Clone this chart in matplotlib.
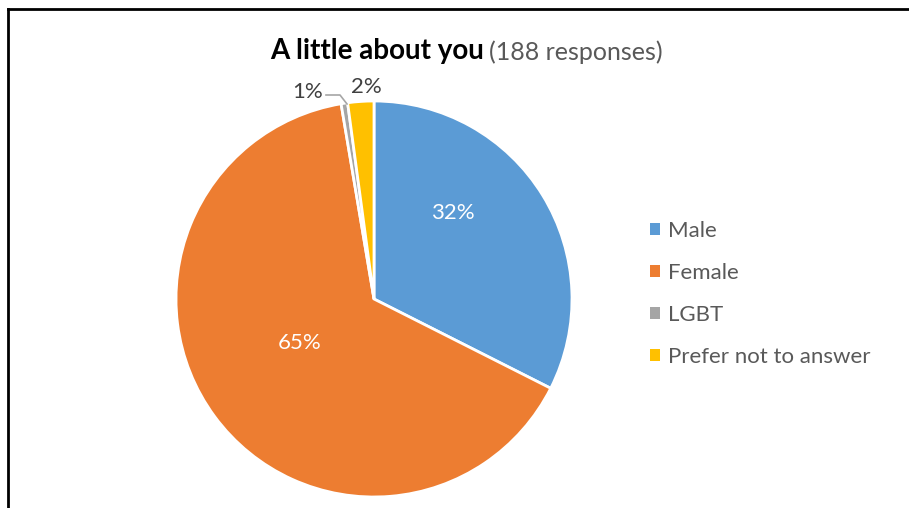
import matplotlib
matplotlib.use("Agg")
import matplotlib.pyplot as plt
from matplotlib.patches import Patch
from matplotlib.lines import Line2D

categories = ["Male", "Female", "LGBT", "Prefer not to answer"]
counts = [61, 122, 1, 4]
colors = ["#5B9BD5", "#ED7D31", "#A5A5A5", "#FFC000"]
title_main = "A little about you"
title_sub = "(188 responses)"

plt.rcParams['font.family'] = ['Lato', 'DejaVu Sans']

W, H = 909, 508
fig = plt.figure(figsize=(W / 100, H / 100), dpi=100)
fig.patch.set_facecolor("white")

cx, cy, r = 374, 299, 198
ax = fig.add_axes([(cx - r) / W, (H - cy - r) / H, 2 * r / W, 2 * r / H])
wedges, _ = ax.pie(counts, colors=colors, startangle=90, counterclock=False,
                   radius=1.0, wedgeprops=dict(edgecolor="white", linewidth=2))
ax.set_xlim(-1, 1)
ax.set_ylim(-1, 1)
ax.set_aspect("equal")
ax.axis("off")

total = sum(counts)
pcts = [f"{round(c / total * 100)}%" for c in counts]

def px(x, y):
    return ((x - cx) / r, (cy - y) / r)

fs = 16
label_pos = [px(453, 213), px(300, 343), px(308, 92), px(366, 87)]
label_col = ["white", "white", "#404040", "#404040"]
for p, pos, col in zip(pcts, label_pos, label_col):
    ax.text(pos[0], pos[1], p, ha="center", va="center", color=col, fontsize=fs, clip_on=False)

# leader line for LGBT label
lx = [px(326, 95), px(340, 95), px(347, 104)]
ax.plot([p[0] for p in lx], [p[1] for p in lx], color="#A6A6A6", lw=1.2, clip_on=False)

# legend
handles = [Patch(facecolor=c, edgecolor="none") for c in colors]
leg = fig.legend(handles, categories, loc="center left",
                 bbox_to_anchor=(630 / W, 1 - 294 / H), frameon=False,
                 fontsize=fs, handlelength=0.45, handleheight=0.45,
                 handletextpad=0.37, labelspacing=1.0, labelcolor="#595959")

# title
t1 = fig.text(270 / W, 1 - 51 / H, title_main, ha="left", va="center",
              fontsize=20, fontweight="bold", color="black")
fig.canvas.draw()
ax.annotate(title_sub, xy=(1, 0), xycoords=t1, xytext=(4, 0), textcoords="offset points",
            ha="left", va="bottom", fontsize=18, color="#595959")

# frame lines
fig.add_artist(Line2D([8 / W, 8 / W], [0, 1 - 8.5 / H], transform=fig.transFigure, color="black", lw=2))
fig.add_artist(Line2D([8 / W, 1], [1 - 8.5 / H, 1 - 8.5 / H], transform=fig.transFigure, color="black", lw=2))

fig.savefig("out.png", dpi=100)
